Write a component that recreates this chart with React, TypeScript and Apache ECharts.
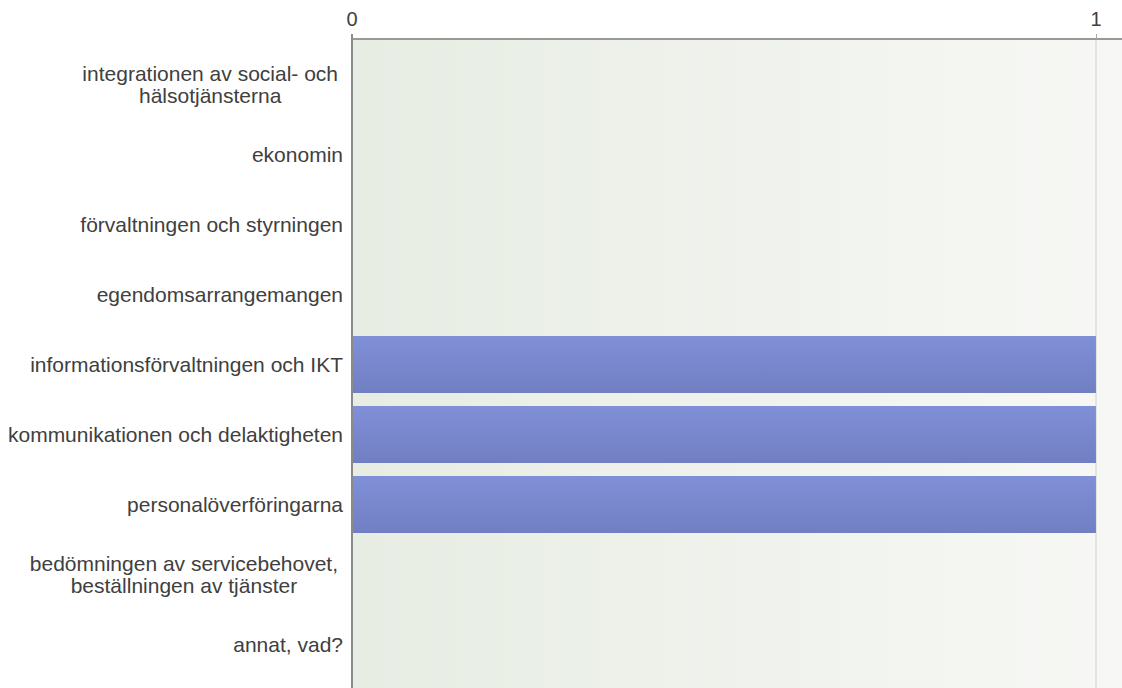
import React, { useEffect, useRef } from "react";
import * as echarts from "echarts";

const categories = [
  "integrationen av social- och\nhälsotjänsterna",
  "ekonomin",
  "förvaltningen och styrningen",
  "egendomsarrangemangen",
  "informationsförvaltningen och IKT",
  "kommunikationen och delaktigheten",
  "personalöverföringarna",
  "bedömningen av servicebehovet,\nbeställningen av tjänster",
  "annat, vad?",
];
const values = [0, 0, 0, 0, 1, 1, 1, 0, 0];
const tickValues = [0, 1];
const tickLabels = ["0", "1"];

export default function App() {
  const ref = useRef<HTMLDivElement>(null);
  useEffect(() => {
    document.body.style.margin = "0";
    const chart = echarts.init(ref.current!, null, { renderer: "svg" });
    const baseGraphics: any[] = [
      {
        id: "bg",
        type: "rect",
        z: -1,
        shape: { x: 352, y: 39, width: 770, height: 649 },
        style: {
          fill: new echarts.graphic.LinearGradient(0, 0, 1, 0, [
            { offset: 0, color: "#e7ede3" },
            { offset: 1, color: "#f7f8f5" },
          ]),
        },
      },
      {
        id: "leftline",
        type: "line",
        z: 10,
        shape: { x1: 352, y1: 34, x2: 352, y2: 688 },
        style: { stroke: "#8a8a8a", lineWidth: 2 },
      },
    ];
    chart.setOption({
      animation: false,
      textStyle: { fontFamily: "Liberation Sans, Arial, sans-serif" },
      graphic: baseGraphics,
      grid: { left: 352, right: 0, top: 49.5, height: 630 },
      xAxis: {
        type: "value",
        position: "top",
        offset: 10.5,
        min: 0,
        max: 1.035,
        interval: 1,
        axisLine: { show: true, lineStyle: { color: "#999", width: 2 } },
        axisTick: { show: true, length: 5, lineStyle: { color: "#aaa" } },
        splitLine: { show: false },
        axisLabel: {
          fontSize: 20,
          color: "#404040",
          margin: 10,
          showMaxLabel: false,
          formatter: (v: number) => {
            const i = tickValues.indexOf(Math.round(v));
            return Math.abs(v - Math.round(v)) < 1e-9 && i >= 0 ? tickLabels[i] : "";
          },
        },
      },
      yAxis: {
        type: "category",
        inverse: true,
        data: categories,
        axisLine: { show: false },
        axisTick: { show: false },
        splitLine: { show: false },
        axisLabel: {
          fontSize: 21,
          color: "#404040",
          margin: 9,
          lineHeight: 22,
          formatter: (v: string) =>
            v.includes("\n")
              ? v
                  .split("\n")
                  .map((s) => "{c|" + s + "}")
                  .join("\n")
              : v,
          rich: {
            c: { align: "center", fontSize: 21, color: "#404040", lineHeight: 22, padding: [0, 5, 0, 0] },
          },
        },
      },
      series: [
        {
          type: "bar",
          data: values,
          barWidth: 57,
          itemStyle: {
            color: new echarts.graphic.LinearGradient(0, 0, 0, 1, [
              { offset: 0, color: "#8090d8" },
              { offset: 1, color: "#717fc2" },
            ]),
          },
        },
      ],
    });
    const gridLines = tickValues
      .filter((t) => t > 0)
      .map((t, k) => {
        const x = Math.round(chart.convertToPixel({ xAxisIndex: 0 }, t) as number);
        return {
          id: "vgrid" + k,
          type: "line",
          z: -0.5,
          shape: { x1: x, y1: 40, x2: x, y2: 688 },
          style: { stroke: "#e2e5e0", lineWidth: 2 },
        };
      });
    chart.setOption({ graphic: [...baseGraphics, ...gridLines] });
    return () => chart.dispose();
  }, []);
  return <div ref={ref} style={{ width: 1122, height: 688 }} />;
}
